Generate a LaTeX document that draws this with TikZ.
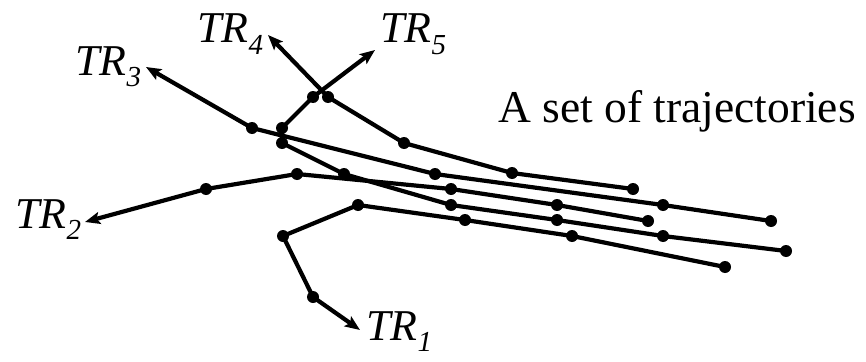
\documentclass[tikz,border=0pt]{standalone}
\usepackage{fontspec}
\setmainfont{Liberation Serif}
\usetikzlibrary{arrows.meta}
\newcommand{\trlabel}[1]{{\fontsize{44}{44}\selectfont\itshape TR}\raisebox{-11pt}{\fontsize{29}{29}\selectfont\itshape #1}}
\begin{document}
\begin{tikzpicture}[x=1pt,y=-1pt,
  traj/.style={line width=4.2pt, line join=round},
  tip/.style={-{Stealth[length=15pt,width=12pt,inset=3pt]}},
  dot/.style={circle, fill=black, inner sep=0pt, minimum size=12pt},
  lbl/.style={anchor=base west, inner sep=0pt}]
\useasboundingbox (0,0) rectangle (866,361);
% TR1
\node[dot] (a1) at (725,267) {};
\node[dot] (a2) at (572,236) {};
\node[dot] (a3) at (465,220) {};
\node[dot] (a4) at (358,205) {};
\node[dot] (a5) at (283,236) {};
\node[dot] (a6) at (313,297) {};
\coordinate (a7) at (360,330);
% TR2
\node[dot] (b1) at (648,221) {};
\node[dot] (b2) at (557,205) {};
\node[dot] (b3) at (451,189) {};
\node[dot] (b4) at (297,174) {};
\node[dot] (b5) at (206,189) {};
\coordinate (b6) at (85,222);
% TR3
\node[dot] (c1) at (771,221) {};
\node[dot] (c2) at (663,205) {};
\node[dot] (c3) at (435,174) {};
\node[dot] (c4) at (252,128) {};
\coordinate (c5) at (146,67);
% TR4
\node[dot] (d1) at (633,189) {};
\node[dot] (d2) at (512,173) {};
\node[dot] (d3) at (404,143) {};
\node[dot] (d4) at (328,97) {};
\coordinate (d5) at (268,35);
% TR5
\node[dot] (e1) at (786,251) {};
\node[dot] (e2) at (663,236) {};
\node[dot] (e3) at (557,220) {};
\node[dot] (e4) at (451,205) {};
\node[dot] (e5) at (344,174) {};
\node[dot] (e6) at (282,143) {};
\node[dot] (e7) at (282,128) {};
\node[dot] (e8) at (313,97) {};
\coordinate (e9) at (375,50);

\draw[traj,tip] (a1.center) -- (a2.center) -- (a3.center) -- (a4.center) -- (a5.center) -- (a6.center) -- (a7);
\draw[traj,tip] (b1.center) -- (b2.center) -- (b3.center) -- (b4.center) -- (b5.center) -- (b6);
\draw[traj,tip] (c1.center) -- (c2.center) -- (c3.center) -- (c4.center) -- (c5);
\draw[traj,tip] (d1.center) -- (d2.center) -- (d3.center) -- (d4.center) -- (d5);
\draw[traj,tip] (e1.center) -- (e2.center) -- (e3.center) -- (e4.center) -- (e5.center) -- (e6.center) -- (e7.center) -- (e8.center) -- (e9);

\node[lbl] (l1) at (366,340) {\trlabel{1}};
\node[lbl] (l2) at (15,228) {\trlabel{2}};
\node[lbl] (l3) at (75,75) {\trlabel{3}};
\node[lbl] (l4) at (197,43) {\trlabel{4}};
\node[lbl] (l5) at (380,43) {\trlabel{5}};
\node[lbl] (title) at (498,122) {\fontsize{45.5}{46}\selectfont A set of trajectories};
\end{tikzpicture}
\end{document}
